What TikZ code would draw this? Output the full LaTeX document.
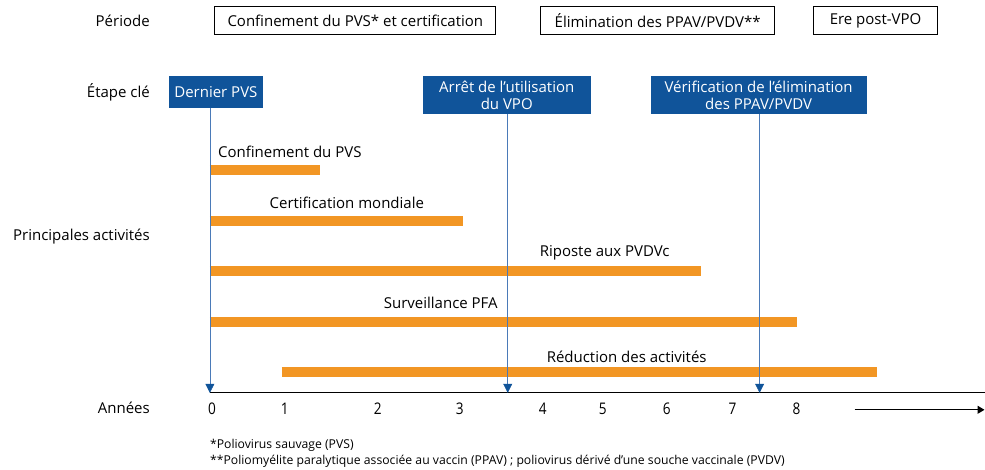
\documentclass[tikz,border=0pt]{standalone}
\usepackage{fontspec}
\setmainfont{Open Sans}
\newfontfamily\condfont[FakeStretch=0.85]{Open Sans}
\usetikzlibrary{arrows.meta}
\definecolor{etapeblue}{RGB}{16,84,154}
\definecolor{lineblue}{RGB}{74,122,184}
\definecolor{barorange}{RGB}{242,150,36}

\begin{document}
\begin{tikzpicture}[x=1pt,y=-1pt,
    every node/.style = {font=\fontsize{15}{17}\selectfont, inner sep=0pt},
    rowlabel/.style = {anchor=east},
    periode/.style = {draw, line width=1pt, minimum height=28},
    etape/.style = {fill=etapeblue, text=white, align=center,
      font=\fontsize{15}{17}\selectfont},
    activite/.style = {barorange, line width=10pt},
    annee/.style = {font=\condfont\fontsize{16}{18}\selectfont},
    note/.style = {anchor=west, font=\fontsize{12.2}{14}\selectfont},
    jalon/.style = {lineblue, line width=0.6pt,
      -{Triangle[length=9pt,width=9pt,fill=etapeblue,color=etapeblue]}}]
  \fill[white] (0,0) rectangle (985,470);

  % row labels
  \node[rowlabel] (periode) at (150,21) {Période};
  \node[rowlabel] (etapecle) at (150,92) {Étape clé};
  \node[rowlabel] (activites) at (150,237) {Principales activités};
  \node[rowlabel] (annees) at (150,408) {Années};

  % periods
  \node[periode, minimum width=281] (confinement) at (355.5,21) {Confinement du PVS* et certification};
  \node[periode, minimum width=234] (elimination) at (658,21) {Élimination des PPAV/PVDV**};
  \node[periode, minimum width=124] (postvpo) at (876,21) {Ere post-VPO};

  % key steps
  \node[etape, minimum width=94, minimum height=32] (dernier) at (216,92) {Dernier PVS};
  \node[etape, minimum width=168, minimum height=38] (arret) at (507,95) {Arrêt de l’utilisation\\du VPO};
  \node[etape, minimum width=216, minimum height=38] (verif) at (759,95) {Vérification de l’élimination\\des PPAV/PVDV};

  % activities
  \draw[activite] (210,170) -- (320,170);
  \node[anchor=west] (confpvs) at (218,152) {Confinement du PVS};
  \draw[activite] (210,221) -- (463,221);
  \node (certif) at (347,203) {Certification mondiale};
  \draw[activite] (210,271) -- (701,271);
  \node (riposte) at (605,253) {Riposte aux PVDVc};
  \draw[activite] (210,322) -- (797,322);
  \node (surv) at (441,303) {Surveillance PFA};
  \draw[activite] (282,372) -- (877,372);
  \node (reduc) at (627,357) {Réduction des activités};

  % time axis
  \coordinate (t0) at (210,393);
  \coordinate (tarret) at (508,393);
  \coordinate (tverif) at (760,393);
  \coordinate (tfin) at (985,393);
  \draw[line width=0.8pt] (t0) -- (tfin);
  \foreach \lab/\x in {0/212,1/285,2/378,3/460,4/543,5/603,6/667,7/733,8/797}
    \node[annee] (an\lab) at (\x,409) {\lab};
  \coordinate (fleche) at (855,410);
  \coordinate (flechefin) at (985,410);
  \draw[line width=1pt, -{Triangle[length=7pt,width=8pt]}] (fleche) -- (flechefin);

  \draw[jalon] (dernier.south -| t0) -- (t0);
  \draw[jalon] (arret.south -| tarret) -- (tarret);
  \draw[jalon] (verif.south -| tverif) -- (tverif);

  % notes
  \node[note] (note1) at (210,446) {*Poliovirus sauvage (PVS)};
  \node[note] (note2) at (210,462) {**Poliomyélite paralytique associée au vaccin (PPAV) ; poliovirus dérivé d’une souche vaccinale (PVDV)};
\end{tikzpicture}
\end{document}
